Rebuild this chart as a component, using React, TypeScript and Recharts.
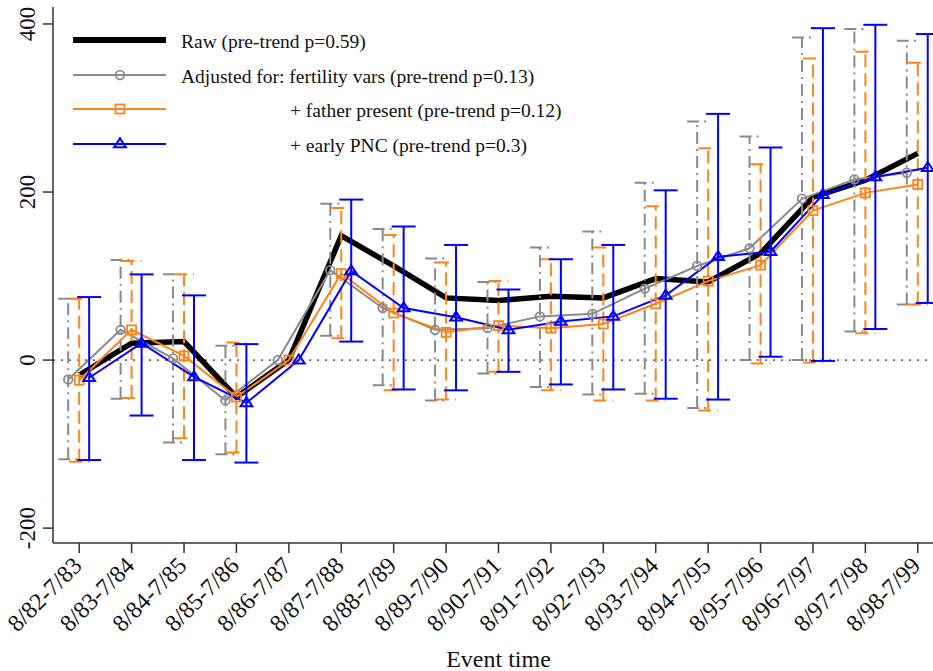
import React from "react";
import { ErrorBar, Line, LineChart, ReferenceLine, XAxis, YAxis } from "recharts";

const CATEGORIES = [
  "8/82-7/83", "8/83-7/84", "8/84-7/85", "8/85-7/86", "8/86-7/87", "8/87-7/88",
  "8/88-7/89", "8/89-7/90", "8/90-7/91", "8/91-7/92", "8/92-7/93", "8/93-7/94",
  "8/94-7/95", "8/95-7/96", "8/96-7/97", "8/97-7/98", "8/98-7/99",
];

const RAW = [-18, 20, 22, -44, 0, 148, 112, 74, 71, 76, 74, 97, 93, 127, 194, 214, 246];

const FERT = [-23, 36, 2, -48, 0, 107, 62, 36, 38, 52, 55, 85, 112, 133, 192, 215, 223];
const FERT_LO = [-118, -46, -98, -112, null, 29, -30, -48, -16, -32, -41, -40, -57, 0, 0, 34, 66];
const FERT_HI = [73, 119, 102, 17, null, 186, 156, 121, 93, 134, 153, 211, 284, 266, 384, 394, 380];

const FATHER = [-24, 36, 5, -44, 0, 103, 56, 33, 41, 38, 43, 67, 94, 113, 178, 199, 209];
const FATHER_LO = [-121, -45, -93, -110, null, 26, -36, -47, -14, -36, -48, -48, -60, -4, -3, 32, 66];
const FATHER_HI = [73, 118, 102, 21, null, 181, 149, 116, 94, 120, 134, 183, 252, 233, 359, 367, 354];

const PNC = [-21, 20, -20, -51, 0, 106, 62, 51, 36, 46, 52, 77, 123, 129, 197, 218, 229];
const PNC_LO = [-119, -66, -119, -122, null, 22, -35, -36, -14, -29, -35, -46, -47, 4, -1, 37, 68];
const PNC_HI = [75, 102, 77, 19, null, 191, 159, 137, 84, 120, 137, 202, 293, 253, 395, 399, 388];

const Y_TICKS = [-200, 0, 200, 400];

const LEGEND = [
  "Raw (pre-trend p=0.59)",
  "Adjusted for: fertility vars (pre-trend p=0.13)",
  "+ father present (pre-trend p=0.12)",
  "+ early PNC (pre-trend p=0.3)",
];

const FONT = '"Liberation Serif", "Times New Roman", serif';
const INK = "#111";
const AXIS = "#333";
const GRAY = "#8a8a8a";
const ORANGE = "#ff8418";
const BLUE = "#0000ff";

// side-by-side dodge of the adjusted series, in category units
const DODGE = { fert: -0.21, father: 0, pnc: 0.19 };

type Row = { x: number; y: number; err: [number, number] | null };

function series(vals: number[], lo: (number | null)[] | null, hi: (number | null)[] | null, dodge: number): Row[] {
  return vals.map((v, i) => {
    const l = lo ? lo[i] : null;
    const h = hi ? hi[i] : null;
    return { x: i + dodge, y: v, err: l == null || h == null ? null : [v - l, h - v] };
  });
}

const rawData = series(RAW, null, null, 0);
const fertData = series(FERT, FERT_LO, FERT_HI, DODGE.fert);
const fatherData = series(FATHER, FATHER_LO, FATHER_HI, DODGE.father);
const pncData = series(PNC, PNC_LO, PNC_HI, DODGE.pnc);

function CircleMark({ cx, cy }: { cx: number; cy: number }) {
  return <circle cx={cx} cy={cy} r={4.3} fill="none" stroke={GRAY} strokeWidth={1.8} />;
}
function SquareMark({ cx, cy }: { cx: number; cy: number }) {
  return <rect x={cx - 4.5} y={cy - 4.5} width={9} height={9} fill="none" stroke={ORANGE} strokeWidth={1.8} />;
}
function TriangleMark({ cx, cy }: { cx: number; cy: number }) {
  const s = 5.6;
  return (
    <path
      d={`M${cx},${cy - s} L${cx + s * 1.05},${cy + s * 0.6} L${cx - s * 1.05},${cy + s * 0.6} Z`}
      fill="none"
      stroke={BLUE}
      strokeWidth={2}
    />
  );
}

function XTick({ x, y, payload }: any) {
  const px = x + 4;
  const py = y + 12;
  return (
    <text x={px} y={py} transform={`rotate(-45 ${px} ${py})`} textAnchor="end" fontSize={24} fontFamily={FONT} fill={INK}>
      {CATEGORIES[Math.round(payload.value)]}
    </text>
  );
}

function YTick({ x, y, payload }: any) {
  const px = x - 6;
  return (
    <text x={px} y={y} transform={`rotate(-90 ${px} ${y})`} textAnchor="middle" fontSize={23} fontFamily={FONT} fill={INK}>
      {payload.value}
    </text>
  );
}

function ChartLegend() {
  const rows = [40, 75, 109, 144];
  const textX = [181, 181, 290, 290];
  return (
    <svg width={620} height={170} style={{ position: "absolute", left: 0, top: 0 }}>
      <line x1={73} x2={166} y1={rows[0]} y2={rows[0]} stroke="#000" strokeWidth={6} />
      <line x1={73} x2={166} y1={rows[1]} y2={rows[1]} stroke={GRAY} strokeWidth={2} />
      <CircleMark cx={120} cy={rows[1]} />
      <line x1={73} x2={166} y1={rows[2]} y2={rows[2]} stroke={ORANGE} strokeWidth={2} />
      <SquareMark cx={120} cy={rows[2]} />
      <line x1={73} x2={166} y1={rows[3]} y2={rows[3]} stroke={BLUE} strokeWidth={2} />
      <TriangleMark cx={120} cy={rows[3]} />
      {LEGEND.map((t, i) => (
        <text key={t} x={textX[i]} y={rows[i] + 8} fontSize={19.5} fontFamily={FONT} fill={INK}>
          {t}
        </text>
      ))}
    </svg>
  );
}

export default function App() {
  return (
    <div style={{ position: "fixed", left: 0, top: 0, width: 933, height: 671, overflow: "hidden", background: "#fff" }}>
      <LineChart width={962} height={671} margin={{ top: 7, right: 18, left: 0, bottom: 0 }}>
        <XAxis
          dataKey="x"
          type="number"
          domain={[-0.5, 16.5]}
          ticks={CATEGORIES.map((_, i) => i)}
          interval={0}
          height={128}
          tickSize={10}
          tick={<XTick />}
          axisLine={{ stroke: AXIS, strokeWidth: 1.5 }}
          tickLine={{ stroke: AXIS, strokeWidth: 1.5 }}
          label={{ value: "Event time", position: "insideBottom", offset: 4, fontSize: 24, fontFamily: FONT, fill: INK }}
        />
        <YAxis
          type="number"
          domain={[-217.7, 420.2]}
          ticks={Y_TICKS}
          width={53}
          tickSize={10}
          tick={<YTick />}
          axisLine={{ stroke: AXIS, strokeWidth: 1.5 }}
          tickLine={{ stroke: AXIS, strokeWidth: 1.5 }}
        />
        <ReferenceLine y={0} stroke="#666" strokeWidth={1.6} strokeDasharray="2 6" />
        <Line
          data={rawData}
          dataKey="y"
          stroke="#000"
          strokeWidth={5.5}
          dot={false}
          activeDot={false}
          isAnimationActive={false}
        />
        <Line
          data={fertData}
          dataKey="y"
          stroke={GRAY}
          strokeWidth={2}
          dot={(p: any) => <CircleMark key={`f${p.index}`} cx={p.cx} cy={p.cy} />}
          activeDot={false}
          isAnimationActive={false}
        >
          <ErrorBar dataKey="err" direction="y" width={10} stroke={GRAY} strokeWidth={2} strokeDasharray="12 5 2 5" isAnimationActive={false} />
        </Line>
        <Line
          data={fatherData}
          dataKey="y"
          stroke={ORANGE}
          strokeWidth={2}
          dot={(p: any) => <SquareMark key={`o${p.index}`} cx={p.cx} cy={p.cy} />}
          activeDot={false}
          isAnimationActive={false}
        >
          <ErrorBar dataKey="err" direction="y" width={10} stroke={ORANGE} strokeWidth={2} strokeDasharray="13 6" isAnimationActive={false} />
        </Line>
        <Line
          data={pncData}
          dataKey="y"
          stroke={BLUE}
          strokeWidth={2}
          dot={(p: any) => <TriangleMark key={`b${p.index}`} cx={p.cx} cy={p.cy} />}
          activeDot={false}
          isAnimationActive={false}
        >
          <ErrorBar dataKey="err" direction="y" width={12} stroke={BLUE} strokeWidth={2} isAnimationActive={false} />
        </Line>
      </LineChart>
      <ChartLegend />
    </div>
  );
}
